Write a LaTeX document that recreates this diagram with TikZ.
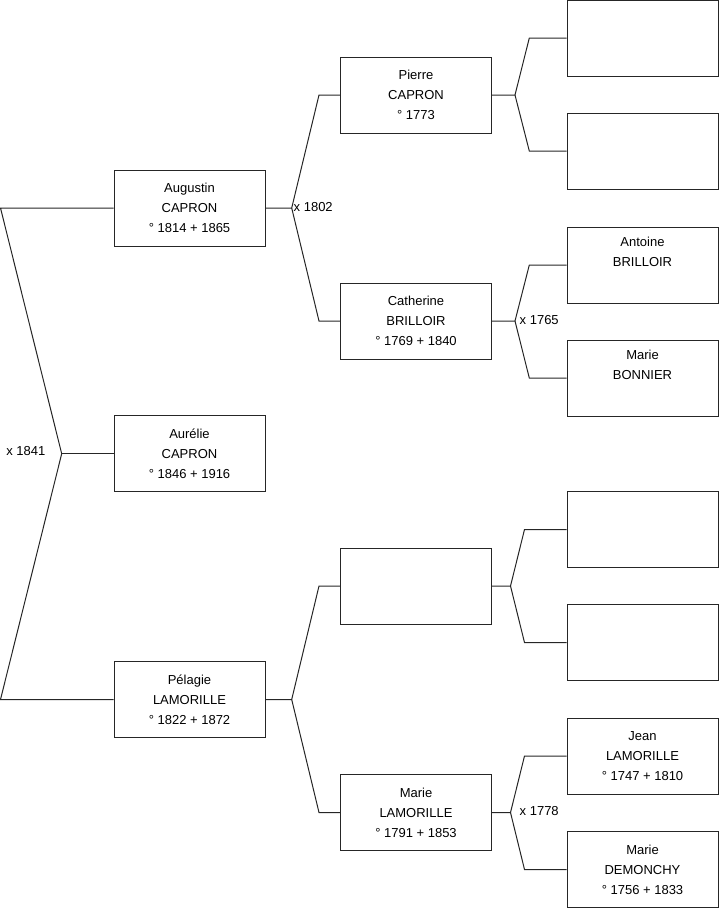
\documentclass[tikz,border=0pt]{standalone}
\usepackage{fontspec}
\setmainfont{Liberation Sans}
\begin{document}
\begin{tikzpicture}[x=1pt,y=-1pt,
  person/.style={draw=black!85,line width=1pt,fill=white,minimum width=151pt,minimum height=76pt,inner sep=0pt,align=center,font=\fontsize{13}{20}\selectfont},
  link/.style={draw=black!85,line width=1pt},
  marr/.style={font=\fontsize{13}{14}\selectfont,inner sep=0pt}]
\useasboundingbox (0,0) rectangle (719,908);
% generation 1
\node[person] (aug) at (189.5,208) {Augustin\\CAPRON\\° 1814 + 1865};
\node[person] (aur) at (189.5,453.7) {Aurélie\\CAPRON\\° 1846 + 1916};
\node[person] (pel) at (189.5,699.5) {Pélagie\\LAMORILLE\\° 1822 + 1872};
% generation 2
\node[person] (pie) at (416,95) {Pierre\\CAPRON\\° 1773};
\node[person] (cat) at (416,321) {Catherine\\BRILLOIR\\° 1769 + 1840};
\node[person] (mid) at (416,586) {};
\node[person] (mal) at (416,812.5) {Marie\\LAMORILLE\\° 1791 + 1853};
% generation 3
\node[person] (r1) at (642.5,38) {};
\node[person] (r2) at (642.5,151) {};
\node[person] (r3) at (642.5,265) {Antoine\\BRILLOIR\\\strut};
\node[person] (r4) at (642.5,378) {Marie\\BONNIER\\\strut};
\node[person] (r5) at (642.5,529.5) {};
\node[person] (r6) at (642.5,642.5) {};
\node[person] (r7) at (642.5,756) {Jean\\LAMORILLE\\° 1747 + 1810};
\node[person] (r8) at (642.5,869.5) {Marie\\DEMONCHY\\° 1756 + 1833};
% left brace
\coordinate (l1) at (0.5,208);
\coordinate (v0) at (61.7,453.7);
\coordinate (l3) at (0.5,699.5);
\draw[link] (aug.west) -- (l1) -- (v0) -- (l3) -- (pel.west);
\draw[link] (v0) -- (aur.west);
\node[marr,anchor=east] (m0) at (45.5,451.5) {x 1841};
% Augustin brace
\coordinate (v1) at (291.7,208);
\coordinate (a1) at (319,95);
\coordinate (a2) at (319,321);
\draw[link] (aug.east) -- (v1) -- (a1) -- (pie.west);
\draw[link] (v1) -- (a2) -- (cat.west);
\node[marr,anchor=west] (m1) at (293.5,207) {x 1802};
% Pelagie brace
\coordinate (v2) at (291.7,699.5);
\coordinate (b1) at (319,586);
\coordinate (b2) at (319,812.5);
\draw[link] (pel.east) -- (v2) -- (b1) -- (mid.west);
\draw[link] (v2) -- (b2) -- (mal.west);
% Pierre brace
\coordinate (v3) at (515,95);
\coordinate (c1) at (529.3,38);
\coordinate (c2) at (529.3,151);
\draw[link] (pie.east) -- (v3) -- (c1) -- (r1.west);
\draw[link] (v3) -- (c2) -- (r2.west);
% Catherine brace
\coordinate (v4) at (515,321);
\coordinate (d1) at (529.3,265);
\coordinate (d2) at (529.3,378);
\draw[link] (cat.east) -- (v4) -- (d1) -- (r3.west);
\draw[link] (v4) -- (d2) -- (r4.west);
\node[marr,anchor=west] (m4) at (519.5,320) {x 1765};
% mid brace
\coordinate (v5) at (510.5,586);
\coordinate (e1) at (524.5,529.5);
\coordinate (e2) at (524.5,642.5);
\draw[link] (mid.east) -- (v5) -- (e1) -- (r5.west);
\draw[link] (v5) -- (e2) -- (r6.west);
% Marie brace
\coordinate (v6) at (510.5,812.5);
\coordinate (f1) at (524.5,756);
\coordinate (f2) at (524.5,869.5);
\draw[link] (mal.east) -- (v6) -- (f1) -- (r7.west);
\draw[link] (v6) -- (f2) -- (r8.west);
\node[marr,anchor=west] (m6) at (519.5,811) {x 1778};
\end{tikzpicture}
\end{document}
